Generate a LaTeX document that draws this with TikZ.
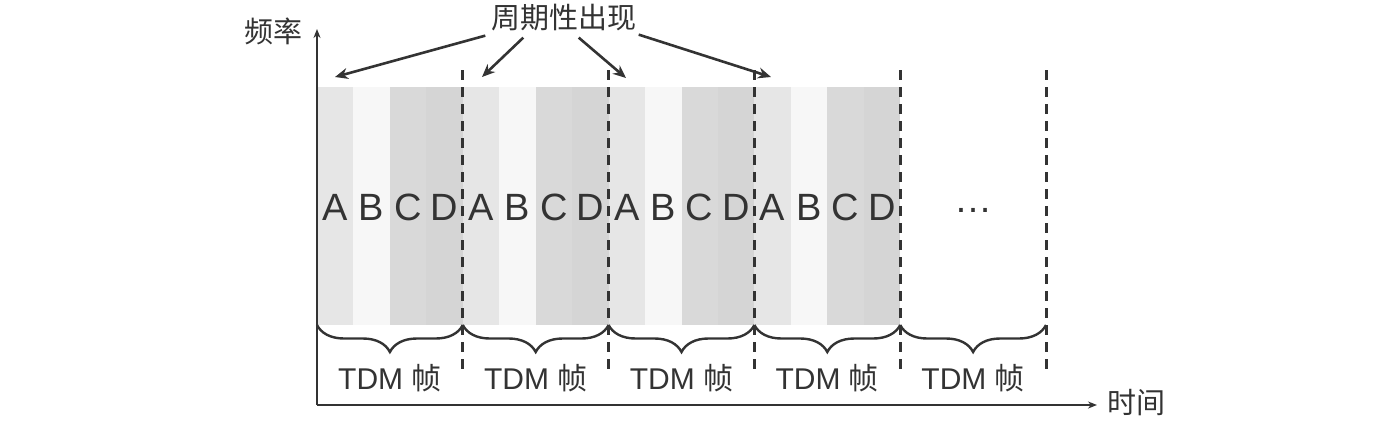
\documentclass[tikz,border=0pt]{standalone}
\usepackage{fontspec}
\setmainfont{Liberation Sans}
\newfontfamily\cjk{Noto Sans CJK SC}
\usetikzlibrary{decorations.pathreplacing, calc, arrows.meta}
\usepackage{xcolor}
\definecolor{inkgray}{HTML}{333333}
\definecolor{slotA}{HTML}{E6E6E6}
\definecolor{slotB}{HTML}{F7F7F7}
\definecolor{slotC}{HTML}{D9D9D9}
\definecolor{slotD}{HTML}{D5D5D5}

\begin{document}
\begin{tikzpicture}[x=1pt,y=-1pt,
  slotlabel/.style={text=inkgray,font=\fontsize{38}{40}\selectfont,inner sep=0pt},
  framelabel/.style={text=inkgray,font=\fontsize{30}{32}\selectfont,inner sep=0pt},
  axislabel/.style={text=inkgray,font=\cjk\fontsize{29}{31}\selectfont,inner sep=0pt},
  divider/.style={draw=inkgray,line width=3pt,dash pattern=on 10pt off 7pt},
  framebrace/.style={draw=inkgray,line width=2.4pt,decorate,
    decoration={brace,mirror,amplitude=27pt}},
  pointer/.style={draw=inkgray,line width=2.6pt,-{Stealth[length=13pt,width=11pt]}}]
  \useasboundingbox (0,0) rectangle (1379,432);

  % time slots A B C D in the first four frames
  \foreach \f in {0,...,3} {
    \foreach \c/\col/\lab in {0/slotA/A,1/slotB/B,2/slotC/C,3/slotD/D} {
      \fill[\col] ({317+145.8*\f+36.45*\c},87) rectangle +(36.45,238);
      \node[slotlabel] (s\f\lab) at ({317+145.8*\f+36.45*\c+18.2},207) {\lab};
    }
  }
  \node[slotlabel] (more) at (973,210) {…};

  % frame borders
  \foreach \i in {1,...,5}
    \draw[divider] ({317+145.8*\i},70) -- ({317+145.8*\i},370);

  % braces and frame labels
  \foreach \i in {0,...,4} {
    \draw[framebrace] ({317+145.8*\i},325) -- ({317+145.8*(\i+1)},325);
    \node[framelabel] (tdm\i) at ({317+145.8*\i+72.9},378) {TDM {\cjk 帧}};
  }

  % axes
  \coordinate (origin) at (317,405);
  \coordinate (ytop) at (317,29);
  \coordinate (xend) at (1097,405);
  \draw[draw=inkgray,line width=2.4pt,-{Stealth[length=9pt,width=7pt]}] (origin) -- (ytop);
  \draw[draw=inkgray,line width=2.4pt,-{Stealth[length=9pt,width=7pt]}] (origin) -- (xend);
  \node[axislabel] (freq) at (273,31) {频率};
  \node[axislabel] (time) at (1136,403) {时间};

  % periodic arrows
  \node[axislabel] (period) at (564,18) {周期性出现};
  \coordinate (p1) at (335,77);
  \coordinate (p2) at (482,77);
  \coordinate (p3) at (626,78);
  \coordinate (p4) at (771,77);
  \draw[pointer] ($(period.south west)+(-6,4)$) -- (p1);
  \draw[pointer] ($(period.south west)+(32,6)$) -- (p2);
  \draw[pointer] ($(period.south east)+(-58,6)$) -- (p3);
  \draw[pointer] ($(period.south east)+(2,3)$) -- (p4);
\end{tikzpicture}
\end{document}
